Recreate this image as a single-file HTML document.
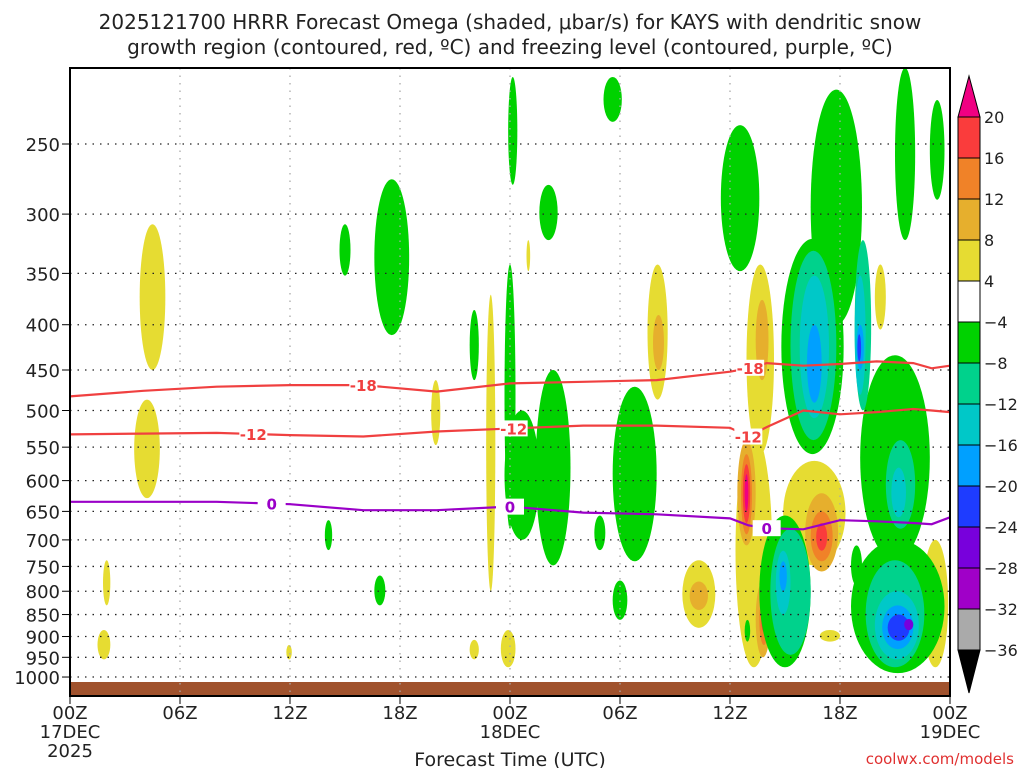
<!DOCTYPE html>
<html><head><meta charset="utf-8"><style>
html,body{margin:0;padding:0;background:#fff;}
svg text{font-family:"DejaVu Sans","Liberation Sans",sans-serif;}
</style></head><body>
<svg id="chart" width="1024" height="768" xmlns="http://www.w3.org/2000/svg">
<text x="510" y="29" font-size="20" text-anchor="middle" fill="#222">2025121700 HRRR Forecast Omega (shaded, μbar/s) for KAYS with dendritic snow</text>
<text x="510" y="54" font-size="20" text-anchor="middle" fill="#222">growth region (contoured, red, ºC) and freezing level (contoured, purple, ºC)</text>
<g id="plot"></g>
<g id="cbar"></g>
<text x="510" y="766" font-size="19" text-anchor="middle" fill="#222">Forecast Time (UTC)</text>
<text x="1014" y="764" font-size="15" text-anchor="end" fill="#e03030">coolwx.com/models</text>
</svg>
<script>
const pressureTicks=[250,300,350,400,450,500,550,600,650,700,750,800,850,900,950,1000];
const hourTicks=[0,6,12,18,24,30,36,42,48];
const hourLabels=[["00Z","17DEC","2025"],["06Z"],["12Z"],["18Z"],["00Z","18DEC"],["06Z"],["12Z"],["18Z"],["00Z","19DEC"]];
const levelColors={Y:"#e6dc32",O:"#e6af2d",Or:"#f08228",R:"#fa3c3c",M:"#f00082",G:"#00d200",T:"#00d28c",C:"#00c8c8",LB:"#00a0ff",B:"#1e3cff",P:"#7800dc"};
// blobs: [hourStart, hourEnd, pressureTop, pressureBottom, level]
const blobs=[
[3.8,5.2,308,450,"Y"],[3.5,4.9,486,628,"Y"],[1.8,2.2,738,830,"Y"],[1.5,2.2,885,955,"Y"],
[11.8,12.1,920,955,"Y"],[19.7,20.2,462,547,"Y"],[22.7,23.2,370,800,"Y"],[23.5,24.3,885,975,"Y"],
[21.8,22.3,908,955,"Y"],[24.9,25.1,321,348,"Y"],[31.5,32.6,342,486,"Y"],[33.4,35.2,738,880,"Y"],
[36.3,38.3,530,975,"Y"],[36.9,38.4,342,560,"Y"],[38.9,42.3,570,748,"Y"],[46.5,47.9,700,975,"Y"],
[43.9,44.5,342,405,"Y"],[40.9,42,885,912,"Y"],
[36.4,37.4,540,710,"O"],[36.6,37.2,560,690,"Or"],[36.7,37.1,575,670,"R"],[36.8,37.0,590,650,"M"],
[37.4,38.2,780,950,"O"],[37.6,38.1,810,920,"Or"],[37.7,38.0,830,890,"R"],
[37.4,38.1,375,462,"O"],[40.1,41.9,620,760,"O"],[40.4,41.6,650,740,"Or"],[40.7,41.3,670,720,"R"],
[31.8,32.4,390,450,"O"],[33.8,34.8,780,840,"O"],
[16.6,18.5,274,411,"G"],[14.7,15.3,308,352,"G"],[23.9,24.4,210,278,"G"],[29.1,30.1,210,236,"G"],
[25.6,26.6,278,321,"G"],[25.4,27.3,450,748,"G"],[23.7,25.6,500,700,"G"],[23.7,24.3,342,680,"G"],[29.6,32.0,470,740,"G"],
[28.6,29.2,657,719,"G"],[29.6,30.4,778,862,"G"],[13.9,14.3,665,719,"G"],[16.6,17.2,768,830,"G"],
[21.8,22.3,385,462,"G"],[35.5,37.6,238,348,"G"],[40.4,43.2,217,400,"G"],[38.8,42.2,320,560,"G"],[45,46.1,205,321,"G"],
[46.9,47.7,223,289,"G"],[43.1,46.9,433,738,"G"],[37.6,40.4,657,975,"G"],[42.6,47.7,700,990,"G"],
[36.8,37.1,862,912,"G"],[42.6,43.2,710,788,"G"],
[39.3,41.8,330,540,"T"],[38.2,40.4,680,944,"T"],[43.4,46.6,738,975,"T"],[42.8,43.7,321,500,"T"],[44.5,46.1,540,680,"T"],
[39.8,41.4,352,510,"C"],[43.9,46.3,800,955,"C"],[38.5,39.3,720,850,"C"],[42.8,43.4,352,480,"C"],[44.8,45.6,580,660,"C"],
[44.3,46,830,930,"LB"],[40.2,41,400,490,"LB"],[42.9,43.3,400,450,"LB"],[38.7,39.1,740,800,"LB"],
[44.6,45.8,850,910,"B"],[42.95,43.15,410,440,"B"],[45.5,46,860,885,"P"]];
const isoHours=[0,4,8,12,16,20,24,28,32,36,37,38,40,42,44,46,47,48];
const iso18=[482,475,470,468,468,476,466,464,462,452,448,442,445,443,440,442,448,445];
const iso12=[532,531,530,533,535,528,524,520,520,523,535,522,500,505,502,498,500,502];
const iso0=[634,634,634,638,648,648,642,652,655,662,674,679,681,665,667,670,672,660];
const cbarLabels=["20","16","12","8","4","-4","-8","-12","-16","-20","-24","-28","-32","-36"];
const cbarColors=["#fa3c3c","#f08228","#e6af2d","#e6dc32","#ffffff","#00d200","#00d28c","#00c8c8","#00a0ff","#1e3cff","#7800dc","#a000c8","#aaaaaa"];

const X0=70,X1=950,Y250=144,K=384.5;
const xs=h=>X0+h*(X1-X0)/48;
const ys=p=>Y250+K*Math.log(p/250);
const NS="http://www.w3.org/2000/svg";
const plot=document.getElementById('plot');
function mk(tag,attrs,parent){const e=document.createElementNS(NS,tag);for(const k in attrs)e.setAttribute(k,attrs[k]);(parent||plot).appendChild(e);return e;}
const cp=mk('clipPath',{id:'clip'});
mk('rect',{x:X0,y:68,width:X1-X0,height:628},cp);
const g=mk('g',{'clip-path':'url(#clip)'});
blobs.forEach(b=>{
  const cx=(xs(b[0])+xs(b[1]))/2,rx=(xs(b[1])-xs(b[0]))/2,cy=(ys(b[2])+ys(b[3]))/2,ry=(ys(b[3])-ys(b[2]))/2;
  const e=mk('ellipse',{cx,cy,rx,ry,fill:levelColors[b[4]]},g);
  
  
});
const gr=mk('rect',{x:X0,y:682,width:X1-X0,height:13,fill:'#a0522d'});

pressureTicks.forEach(p=>{
  const y=ys(p);
  const l=mk('line',{x1:X0,x2:X1,y1:y,y2:y,stroke:'#222','stroke-width':1.3,'stroke-dasharray':'1.5 6'});
  
  mk('line',{x1:X0-8,x2:X0,y1:y,y2:y,stroke:'#000','stroke-width':1});
  const t=mk('text',{x:X0-10,y:y+7,'font-size':18,'text-anchor':'end',fill:'#222'});t.textContent=p;
  
});
hourTicks.forEach((h,i)=>{
  const x=xs(h);
  if(i>0&&i<hourTicks.length-1){const l=mk('line',{x1:x,x2:x,y1:68,y2:696,stroke:'#aaa','stroke-width':1.3,'stroke-dasharray':'1.5 6'});
  }
  mk('line',{x1:x,x2:x,y1:696,y2:704,stroke:'#000'});
  hourLabels[i].forEach((s,j)=>{const t=mk('text',{x,y:719+j*19,'font-size':18,'text-anchor':'middle',fill:'#222'});t.textContent=s;
  });
});
function line(arr,color,name){
  const d=arr.map((p,i)=>(i?'L':'M')+xs(isoHours[i]).toFixed(1)+','+ys(p).toFixed(1)).join('');
  const e=mk('path',{d,fill:'none',stroke:color,'stroke-width':2.2});
  
}
line(iso18,'#f04040','isotherm-minus18');line(iso12,'#f04040','isotherm-minus12');line(iso0,'#9a00c8','freezing-level');
function lab(h,arr,txt,color){
  let i=0;while(i<isoHours.length-1&&isoHours[i+1]<h)i++;
  const f=(h-isoHours[i])/(isoHours[i+1]-isoHours[i]);const p=arr[i]+(arr[i+1]-arr[i])*f;
  const x=xs(h),y=ys(p);
  mk('rect',{x:x-14,y:y-8,width:28,height:16,fill:'#fff'});
  const t=mk('text',{x,y:y+6,'font-size':15,'font-weight':'bold','text-anchor':'middle',fill:color});t.textContent=txt;
  
}
lab(16,iso18,'-18','#f04040');lab(10,iso12,'-12','#f04040');lab(24.2,iso12,'-12','#f04040');lab(37.0,iso12,'-12','#f04040');lab(37.1,iso18,'-18','#f04040');
lab(11,iso0,'0','#9a00c8');lab(24,iso0,'0','#9a00c8');lab(38.0,iso0,'0','#9a00c8');
mk('rect',{x:X0,y:68,width:X1-X0,height:628,fill:'none',stroke:'#000','stroke-width':2});
const cb=document.getElementById('cbar');
const CX0=958,CX1=980,CT=117,BH=41;
cbarColors.forEach((c,i)=>{const r=mk('rect',{x:CX0,y:CT+i*BH,width:CX1-CX0,height:BH,fill:c,stroke:'#000','stroke-width':1},cb);
});
mk('polygon',{points:`${CX0},${CT} ${CX1},${CT} ${(CX0+CX1)/2},76`,fill:'#f00082',stroke:'#000'},cb);
const yb=CT+cbarColors.length*BH;
mk('polygon',{points:`${CX0},${yb} ${CX1},${yb} ${(CX0+CX1)/2},693`,fill:'#000',stroke:'#000'},cb);
cbarLabels.forEach((s,i)=>{const t=mk('text',{x:984,y:CT+i*BH+6,'font-size':16,fill:'#222'},cb);t.textContent=s.replace('-','−');
});
</script>
</body></html>
